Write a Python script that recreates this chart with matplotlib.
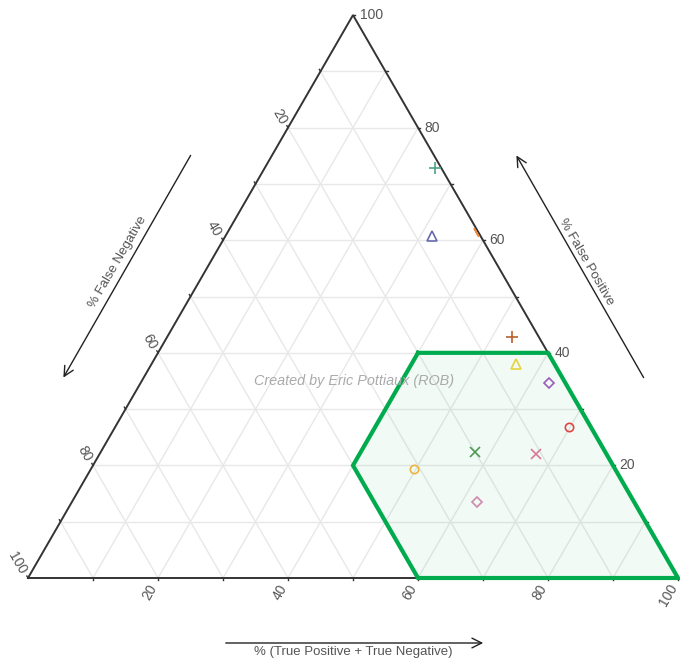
import numpy as np
import matplotlib
matplotlib.use("Agg")
import matplotlib.pyplot as plt

plt.rcParams['font.family'] = ['Liberation Sans', 'DejaVu Sans']

# Classifier results: % (TP + TN), % false positive, % false negative
true_pos_neg = [26.2, 31.7, 38.2, 53.0, 56.1, 62.8, 69.9, 67.1, 57.6, 49.7, 62.3]
false_pos = [72.8, 60.8, 61.5, 42.9, 38.1, 34.7, 26.8, 22.0, 22.4, 19.4, 13.5]
false_neg = [1.0, 7.5, 0.3, 4.1, 5.8, 2.5, 3.3, 10.9, 20.0, 30.9, 24.2]

# Acceptance region corners (TP+TN, FP, FN)
region_tpn = [40, 60, 100, 60, 40]
region_fp = [40, 40, 0, 0, 20]
region_fn = [20, 0, 0, 40, 40]

tick_values = [20, 40, 60, 80, 100]
grid_values = list(range(10, 100, 10))

marker_styles = ['+', '^', (2, 2, 30), '+', '^', 'D', 'o', 'x', 'x', 'o', 'D']
marker_colors = ['#4fa382', '#6a6aae', '#ee8a3a', '#b8602e', '#e3d43a', '#9a5cb8',
                 '#e04545', '#d9799a', '#4f9a55', '#f0b43a', '#cf8aaf']
marker_sizes = [8, 7, 7, 8, 7, 5.5, 6, 6.5, 6.5, 6, 5.5]

H = np.sqrt(3) / 2


def to_xy(a, b):
    a = np.asarray(a, float)
    b = np.asarray(b, float)
    return a + b / 2, b * H


fig = plt.figure(figsize=(6.8, 6.6), dpi=100)
ax = fig.add_axes([0, 0, 1, 1])
s = 6.5
ax.set_xlim(-28 / s, (680 - 28) / s)
ax.set_ylim((578 - 660) / s, 578 / s)
ax.axis('off')

grid_kw = dict(color='#e8e8e8', lw=1.0, zorder=1)
for v in grid_values:
    # constant FP
    x, y = to_xy([0, 100 - v], [v, v])
    ax.plot(x, y, **grid_kw)
    # constant TP+TN
    x, y = to_xy([v, v], [0, 100 - v])
    ax.plot(x, y, **grid_kw)
    # constant FN
    x, y = to_xy([100 - v, 0], [0, 100 - v])
    ax.plot(x, y, **grid_kw)

# acceptance region
rx, ry = to_xy(region_tpn, region_fp)
ax.fill(rx, ry, color='#00a84f', alpha=0.055, lw=0, zorder=2)

# triangle frame
tx, ty = to_xy([0, 100, 0, 0], [0, 0, 100, 0])
ax.plot(tx, ty, color='#333333', lw=1.4, zorder=3, solid_joinstyle='miter')

ax.plot(np.append(rx, rx[0]), np.append(ry, ry[0]), color='#00ab4e', lw=3,
        zorder=4, solid_joinstyle='miter')

# ticks and labels
tick_len = 0.35
lab_kw = dict(fontsize=10, color='#555555', rotation_mode='anchor', zorder=5)
d_bottom = np.array([-0.5, -H])
d_left = np.array([-0.5, H])
d_right = np.array([1.0, 0.0])
off_left = np.array([-0.75, 0.7])
tick_col = '#333333'
for v in list(range(10, 101, 10)):
    # bottom axis (TP+TN)
    p = np.array(to_xy(v, 0))
    ax.plot([p[0], p[0]], [p[1], p[1] - tick_len], color=tick_col, lw=1, zorder=3)
    if v in tick_values:
        q = p + 1.3 * d_bottom
        ax.text(q[0], q[1], str(v), rotation=60, ha='right', va='center', **lab_kw)
    # right axis (FP)
    p = np.array(to_xy(100 - v, v))
    ax.plot(*zip(p, p + tick_len * d_right), color=tick_col, lw=1, zorder=3)
    if v in tick_values:
        q = p + 1.0 * d_right
        ax.text(q[0], q[1], str(v), rotation=0, ha='left', va='center', **lab_kw)
    # left axis (FN)
    p = np.array(to_xy(0, 100 - v))
    ax.plot(*zip(p, p + tick_len * d_left), color=tick_col, lw=1, zorder=3)
    if v in tick_values:
        q = p + off_left
        ax.text(q[0], q[1], str(v), rotation=-60, ha='right', va='center', **lab_kw)

# data points
px, py = to_xy(true_pos_neg, false_pos)
for xi, yi, m, c, ms in zip(px, py, marker_styles, marker_colors, marker_sizes):
    filled = m in ('+', 'x') or isinstance(m, tuple)
    ax.plot(xi, yi, marker=m, ms=ms, mew=1.2, color=c,
            mfc=c if filled else 'none', ls='none', zorder=6)

# watermark
ax.text(50.2, 30.3, 'Created by Eric Pottiaux (ROB)', fontsize=10.4, style='italic',
        color='#aaaaaa', ha='center', va='center', zorder=5)

# axis direction arrows
arrow_kw = dict(arrowstyle='->,head_length=0.7,head_width=0.35', color='#222222', lw=1)


def px2d(xp, yp):
    return (xp - 28) / s, (578 - yp) / s


ax.annotate('', xy=px2d(62, 380), xytext=px2d(192, 153), arrowprops=arrow_kw)
ax.annotate('', xy=px2d(515, 153), xytext=px2d(645, 380), arrowprops=arrow_kw)
ax.annotate('', xy=px2d(486, 643), xytext=px2d(223, 643), arrowprops=arrow_kw)

title_kw = dict(fontsize=9.5, color='#555555', ha='center', va='center')
ax.text(*px2d(118, 262), '% False Negative', rotation=60, **title_kw)
ax.text(*px2d(586, 262), '% False Positive', rotation=-60, **title_kw)
ax.text(*px2d(353, 652), '% (True Positive + True Negative)', **title_kw)

fig.savefig('out.png', dpi=100)
